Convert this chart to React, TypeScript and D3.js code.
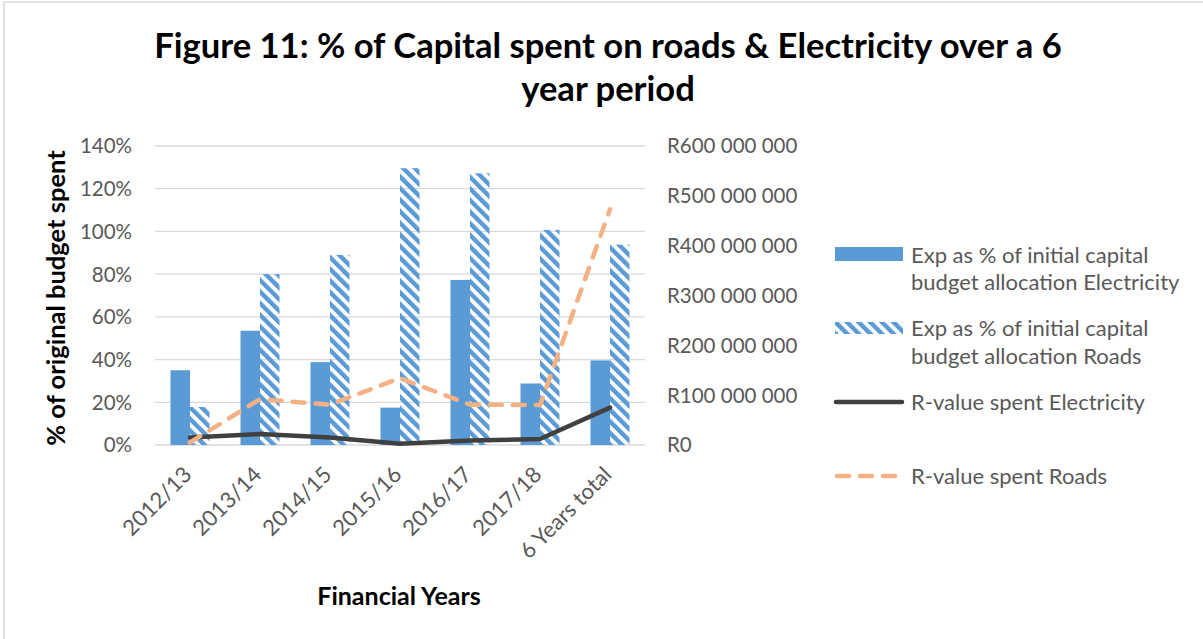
import React, { useEffect } from "react";
import * as d3 from "d3";

const categories = ["2012/13", "2013/14", "2014/15", "2015/16", "2016/17", "2017/18", "6 Years total"];
const elecPct = [0.35, 0.535, 0.388, 0.175, 0.773, 0.288, 0.396];
const roadsPct = [0.178, 0.8, 0.89, 1.296, 1.272, 1.007, 0.938];
const elecRand = [15e6, 22e6, 15e6, 2.5e6, 9e6, 12e6, 75e6];
const roadsRand = [5e6, 92e6, 81e6, 134e6, 81e6, 80e6, 473e6];
const leftTicks = [0, 0.2, 0.4, 0.6, 0.8, 1.0, 1.2, 1.4];
const rightTicks = [0, 100e6, 200e6, 300e6, 400e6, 500e6, 600e6];
const titleLines = ["Figure 11: % of Capital spent on roads & Electricity over a 6", "year period"];
const legendItems = [
  { lines: ["Exp as % of initial capital", "budget allocation Electricity"], kind: "solid" },
  { lines: ["Exp as % of initial capital", "budget allocation Roads"], kind: "hatch" },
  { lines: ["R-value spent Electricity"], kind: "line" },
  { lines: ["R-value spent Roads"], kind: "dash" },
];

const FONT = "Lato, 'Open Sans', sans-serif";
const BLUE = "#5B9BD5";
const DARK = "#404040";
const ORANGE = "#F4B183";
const GRID = "#D9D9D9";
const TXT = "#595959";

function fmtRand(v: number) {
  if (v === 0) return "R0";
  const s = d3.format(",")(v).replace(/,/g, " ");
  return "R" + s;
}

export default function App() {
  useEffect(() => {
    document.body.style.margin = "0";
  }, []);

  const W = 1203, H = 639;
  const plot = { left: 155, right: 645, top: 146, bottom: 445 };
  const x = d3.scaleBand<string>().domain(categories).range([plot.left, plot.right]).paddingInner(0).paddingOuter(0);
  const bw = 19.5;
  const yL = d3.scaleLinear().domain([0, 1.4]).range([plot.bottom, plot.top]);
  const yR = d3.scaleLinear().domain([0, 600e6]).range([plot.bottom, plot.top]);
  const cx = (c: string) => (x(c) as number) + x.bandwidth() / 2;

  const lineE = d3.line<number>().x((_, i) => cx(categories[i])).y((d) => yR(d));
  const lineR = d3.line<number>().x((_, i) => cx(categories[i])).y((d) => yR(d));

  const legendRows = [
    { yMarker: 254, yText: [255, 282] },
    { yMarker: 328, yText: [328, 356] },
    { yMarker: 402, yText: [402] },
    { yMarker: 476, yText: [476] },
  ];

  return (
    <svg width={W} height={H} style={{ display: "block", position: "absolute", left: 0, top: 0, background: "#fff" }} fontFamily={FONT}>
      <defs>
        <pattern id="hatch" patternUnits="userSpaceOnUse" width={8.2} height={8.2} patternTransform="rotate(-45)">
          <rect x={0} y={0} width={4.4} height={8.2} fill={BLUE} />
        </pattern>
      </defs>
      <rect x={0} y={0} width={W} height={H} fill="#fff" />
      <rect x={4} y={2} width={W + 10} height={H + 10} fill="none" stroke={GRID} strokeWidth={1.5} />

      {/* Title */}
      {titleLines.map((t, i) => (
        <text key={i} x={608} y={58 + i * 43} textAnchor="middle" fontWeight="bold" fontSize={34.6} fill="#000">
          {t}
        </text>
      ))}

      {/* gridlines */}
      {leftTicks.map((t) => (
        <line key={t} x1={plot.left} x2={plot.right} y1={yL(t)} y2={yL(t)} stroke={GRID} strokeWidth={1.3} />
      ))}

      {/* left ticks */}
      {leftTicks.map((t) => (
        <text key={"l" + t} x={132} y={yL(t)} dy="0.36em" textAnchor="end" fontSize={20.5} fill={TXT}>
          {d3.format(".0%")(t)}
        </text>
      ))}
      {/* right ticks */}
      {rightTicks.map((t) => (
        <text key={"r" + t} x={667} y={yR(t)} dy="0.36em" textAnchor="start" fontSize={20.5} fill={TXT}>
          {fmtRand(t)}
        </text>
      ))}

      {/* bars */}
      {categories.map((c, i) => (
        <g key={c}>
          <rect x={cx(c) - bw} y={yL(elecPct[i])} width={bw} height={plot.bottom - yL(elecPct[i])} fill={BLUE} />
          <rect x={cx(c)} y={yL(roadsPct[i])} width={bw} height={plot.bottom - yL(roadsPct[i])} fill="url(#hatch)" />
        </g>
      ))}

      {/* lines */}
      <path d={lineE(elecRand) || ""} fill="none" stroke={DARK} strokeWidth={4.5} strokeLinejoin="round" strokeLinecap="round" />
      <path d={lineR(roadsRand) || ""} fill="none" stroke={ORANGE} strokeWidth={4.5} strokeDasharray="12 11" strokeLinejoin="round" strokeLinecap="round" />

      {/* x labels */}
      {categories.map((c) => (
        <text key={"x" + c} transform={`translate(${cx(c) + 3},${476}) rotate(-45)`} textAnchor="end" fontSize={22} fill={TXT}>
          {c}
        </text>
      ))}

      {/* axis titles */}
      <text x={399} y={605} textAnchor="middle" fontWeight="bold" fontSize={25} fill="#000">
        Financial Years
      </text>
      <text transform={`translate(65,298) rotate(-90)`} textAnchor="middle" fontWeight="bold" fontSize={25.5} fill="#000">
        % of original budget spent
      </text>

      {/* legend */}
      {legendItems.map((it, i) => {
        const r = legendRows[i];
        let marker: React.ReactNode = null;
        if (it.kind === "solid") marker = <rect x={835} y={r.yMarker - 7} width={68} height={14} fill={BLUE} />;
        if (it.kind === "hatch") marker = <rect x={835} y={r.yMarker - 6} width={68} height={12} fill="url(#hatch)" />;
        if (it.kind === "line") marker = <line x1={836} x2={902} y1={r.yMarker} y2={r.yMarker} stroke={DARK} strokeWidth={4.5} strokeLinecap="round" />;
        if (it.kind === "dash") marker = <line x1={837} x2={902} y1={r.yMarker} y2={r.yMarker} stroke={ORANGE} strokeWidth={4.5} strokeDasharray="12 11" strokeLinecap="round" />;
        return (
          <g key={i}>
            {marker}
            {it.lines.map((l, j) => (
              <text key={j} x={911} y={r.yText[j]} dy="0.36em" fontSize={22} fill={TXT}>
                {l}
              </text>
            ))}
          </g>
        );
      })}
    </svg>
  );
}
